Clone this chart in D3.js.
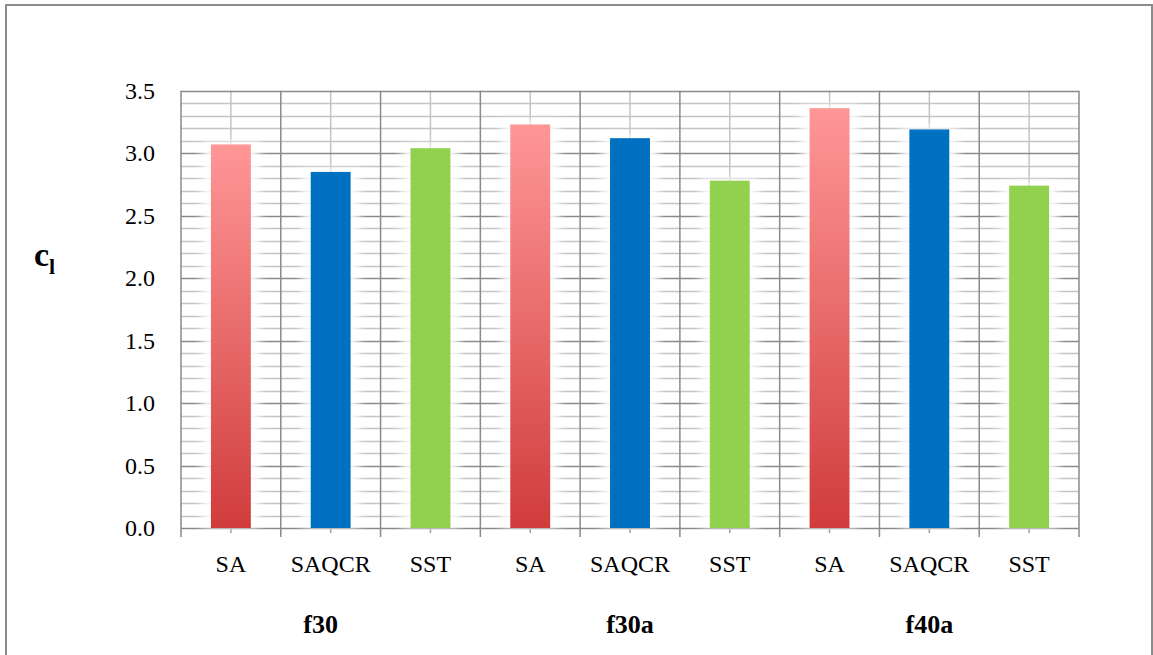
<!DOCTYPE html>
<html>
<head>
<meta charset="utf-8">
<script src="https://cdn.jsdelivr.net/npm/d3@7"></script>
<style>
  html, body { margin: 0; padding: 0; background: #fff; }
  svg { display: block; }
</style>
</head>
<body>
<svg id="chart" width="1153" height="655"></svg>
<script>
// Lift coefficient per turbulence model, grouped by case
const groups = ["f30", "f30a", "f40a"];
const models = ["SA", "SAQCR", "SST"];
const saValues = [3.07, 3.23, 3.36];
const saqcrValues = [2.85, 3.12, 3.19];
const sstValues = [3.04, 2.78, 2.74];
const yTickValues = [0, 0.5, 1.0, 1.5, 2.0, 2.5, 3.0, 3.5];
const yMinorStep = 0.1;

const seriesValues = { SA: saValues, SAQCR: saqcrValues, SST: sstValues };

// flatten into one row per bar
const rows = [];
groups.forEach((g, gi) => {
  models.forEach(m => rows.push({ group: g, model: m, key: g + "|" + m, value: seriesValues[m][gi] }));
});

const svg = d3.select("#chart");
const plot = { left: 181, right: 1079, top: 90.7, bottom: 528 };
const serif = "'Liberation Serif', 'DejaVu Serif', serif";

const x = d3.scaleBand()
  .domain(rows.map(d => d.key))
  .range([plot.left, plot.right])
  .paddingInner(0).paddingOuter(0);

const y = d3.scaleLinear().domain([0, 3.5]).range([plot.bottom, plot.top]);

const defs = svg.append("defs");
const grad = defs.append("linearGradient")
  .attr("id", "saGrad").attr("x1", 0).attr("y1", 0).attr("x2", 0).attr("y2", 1);
grad.append("stop").attr("offset", "0%").attr("stop-color", "#ff9696");
grad.append("stop").attr("offset", "50%").attr("stop-color", "#e86a6a");
grad.append("stop").attr("offset", "100%").attr("stop-color", "#d03c3c");

defs.append("filter").attr("id", "glow")
  .attr("x", "-50%").attr("y", "-20%").attr("width", "200%").attr("height", "140%")
  .append("feGaussianBlur").attr("stdDeviation", 4);

const fill = { SA: "url(#saGrad)", SAQCR: "#0070c0", SST: "#92d050" };

// outer frame
svg.append("rect")
  .attr("x", 6).attr("y", 5).attr("width", 1146).attr("height", 660)
  .attr("fill", "none").attr("stroke", "#8c8c8c").attr("stroke-width", 2);

// horizontal grid: minor every 0.1, major every 0.5
const minorTicks = d3.range(0, 3.5 + 1e-9, yMinorStep).map(v => +v.toFixed(2));
const grid = svg.append("g");
grid.selectAll("line.hminor")
  .data(minorTicks.filter(v => !yTickValues.some(t => Math.abs(t - v) < 1e-6)))
  .join("line")
  .attr("x1", plot.left).attr("x2", plot.right)
  .attr("y1", d => Math.round(y(d)) + 0.5).attr("y2", d => Math.round(y(d)) + 0.5)
  .attr("stroke", "#c4c4c4").attr("stroke-width", 1.5);

// vertical grid: light at category centres, dark at category boundaries
grid.selectAll("line.vminor")
  .data(rows)
  .join("line")
  .attr("x1", d => x(d.key) + x.bandwidth() / 2).attr("x2", d => x(d.key) + x.bandwidth() / 2)
  .attr("y1", plot.top).attr("y2", plot.bottom)
  .attr("stroke", "#c4c4c4").attr("stroke-width", 1.5);

grid.selectAll("line.hmajor")
  .data(yTickValues)
  .join("line")
  .attr("x1", plot.left).attr("x2", plot.right)
  .attr("y1", d => Math.round(y(d)) + 0.5).attr("y2", d => Math.round(y(d)) + 0.5)
  .attr("stroke", "#8a8a8a").attr("stroke-width", 1.5);

const boundaries = rows.map(d => x(d.key)).concat([plot.right]);
grid.selectAll("line.vmajor")
  .data(boundaries)
  .join("line")
  .attr("x1", d => d).attr("x2", d => d)
  .attr("y1", plot.top).attr("y2", plot.bottom + 9)
  .attr("stroke", "#8a8a8a").attr("stroke-width", 1.5);

// short ticks at category centres
grid.selectAll("line.ctick")
  .data(rows)
  .join("line")
  .attr("x1", d => x(d.key) + x.bandwidth() / 2).attr("x2", d => x(d.key) + x.bandwidth() / 2)
  .attr("y1", plot.bottom).attr("y2", plot.bottom + 5)
  .attr("stroke", "#8a8a8a").attr("stroke-width", 1.5);

// bars with soft halo
const barW = x.bandwidth() * 0.4;
const bars = svg.append("g");
bars.selectAll("rect.halo")
  .data(rows)
  .join("rect")
  .attr("x", d => x(d.key) + (x.bandwidth() - barW) / 2 - 9)
  .attr("y", d => y(d.value) - 3)
  .attr("width", barW + 18)
  .attr("height", d => y(0) - y(d.value) + 3)
  .attr("fill", "#fff").attr("opacity", 0.85)
  .attr("filter", "url(#glow)");

bars.selectAll("rect.bar")
  .data(rows)
  .join("rect")
  .attr("x", d => x(d.key) + (x.bandwidth() - barW) / 2)
  .attr("y", d => y(d.value))
  .attr("width", barW)
  .attr("height", d => y(0) - y(d.value))
  .attr("fill", d => fill[d.model]);

// y tick labels
svg.append("g").selectAll("text")
  .data(yTickValues)
  .join("text")
  .attr("x", 155).attr("y", d => y(d) + 8)
  .attr("text-anchor", "end")
  .attr("font-family", serif)
  .attr("font-size", 24)
  .attr("fill", "#000")
  .text(d => d.toFixed(1));

// category labels
svg.append("g").selectAll("text")
  .data(rows)
  .join("text")
  .attr("x", d => x(d.key) + x.bandwidth() / 2).attr("y", 572)
  .attr("text-anchor", "middle")
  .attr("font-family", serif)
  .attr("font-size", 24)
  .attr("fill", "#000")
  .text(d => d.model);

// group labels
svg.append("g").selectAll("text")
  .data(groups)
  .join("text")
  .attr("x", g => x(g + "|SAQCR") + x.bandwidth() / 2 - (g === "f30" ? 10 : 0))
  .attr("y", 633)
  .attr("text-anchor", "middle")
  .attr("font-family", serif)
  .attr("font-size", 26)
  .attr("font-weight", "bold")
  .attr("fill", "#000")
  .text(g => g);

// y-axis title c_l
const title = svg.append("text")
  .attr("x", 34).attr("y", 266)
  .attr("font-family", serif)
  .attr("font-weight", "bold")
  .attr("fill", "#000");
title.append("tspan").attr("font-size", 34).text("c");
title.append("tspan").attr("font-size", 22).attr("dy", 8).text("l");
</script>
</body>
</html>
